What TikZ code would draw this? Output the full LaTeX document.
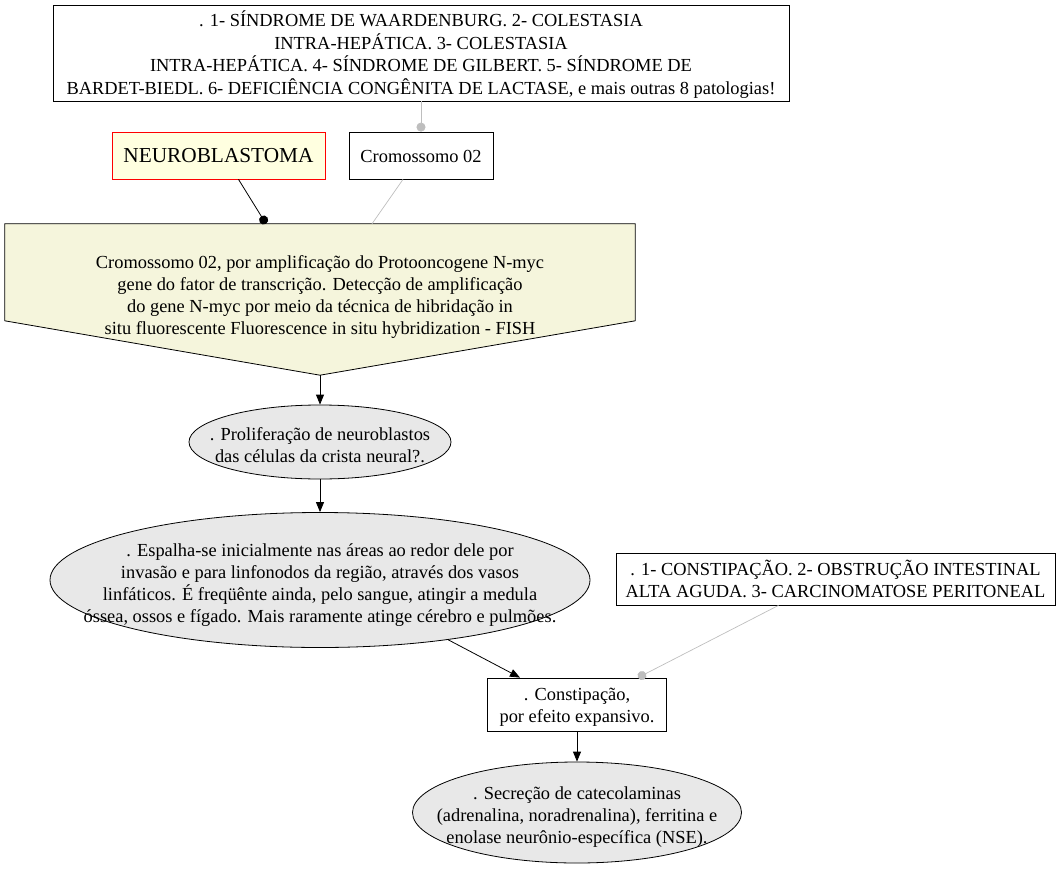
\documentclass[tikz,border=0pt]{standalone}
\usepackage{fontspec}
\setmainfont{Liberation Serif}
\usepackage{tikz}
\usetikzlibrary{shapes.geometric,arrows.meta,backgrounds}

\definecolor{elgray}{HTML}{E8E8E8}
\definecolor{beige}{HTML}{F5F5DC}
\definecolor{lyellow}{HTML}{FFFFE0}
\definecolor{lgray}{HTML}{BEBEBE}

% lines of a node, a little lower than the node's centre
\newcommand{\boxtext}[2][3pt]{\raisebox{-#1}[\height][\depth]{\begin{tabular}{@{}c@{}}#2\end{tabular}}}
% text of an ellipse, kept out of the shape's size
\newcommand{\elltext}[1]{\makebox[0pt][c]{\boxtext[5pt]{#1}}}

\tikzset{
  txt/.style={font=\fontsize{18.4}{22}\selectfont, align=center, inner sep=0pt},
  sqbox/.style={txt, draw, rectangle, line width=0.8pt},
  elbox/.style={txt, draw, ellipse, fill=elgray, line width=0.8pt},
  flow/.style={line width=0.8pt, -{Triangle[length=10pt,width=8pt]}},
  dotblack/.style={line width=0.8pt, -{Circle[length=9pt]}},
  dotgray/.style={line width=0.7pt, lgray, -{Circle[length=9pt]}},
  grayline/.style={line width=0.7pt, lgray}
}

\begin{document}
\begin{tikzpicture}[x=1pt,y=-1pt]
    \useasboundingbox (0,0) rectangle (1062,872);

    \node[sqbox, minimum width=736pt, minimum height=96pt] (doencas) at (421,53)
        {\boxtext{. 1- SÍNDROME DE WAARDENBURG. 2- COLESTASIA\\
         INTRA-HEPÁTICA. 3- COLESTASIA\\
         INTRA-HEPÁTICA. 4- SÍNDROME DE GILBERT. 5- SÍNDROME DE\\
         BARDET-BIEDL. 6- DEFICIÊNCIA CONGÊNITA DE LACTASE, e mais outras 8 patologias!}};
    \node[sqbox, draw=red, fill=lyellow, font=\fontsize{21.3}{25}\selectfont,
        minimum width=213pt, minimum height=47pt] (neuro) at (218.5,155.5) {\boxtext[2pt]{NEUROBLASTOMA}};
    \node[sqbox, minimum width=144pt, minimum height=47pt] (cromo) at (421,155.5) {\boxtext{Cromossomo 02}};

    \node[txt, minimum width=630pt, minimum height=142pt] (amplif) at (320,295)
        {\boxtext[2.5pt]{Cromossomo 02, por amplificação do Protooncogene N-myc\\
         gene do fator de transcrição. Detecção de amplificação\\
         do gene N-myc por meio da técnica de hibridação in\\
         situ fluorescente Fluorescence in situ hybridization - FISH}};
    \coordinate (amplif tip) at ([yshift=-9pt]amplif.south);
    \begin{pgfonlayer}{background}
        \draw[fill=beige, line width=0.8pt] (amplif.north west) -- (amplif.north east)
            -- ([yshift=-97pt]amplif.north east) -- (amplif tip)
            -- ([yshift=-97pt]amplif.north west) -- cycle;
    \end{pgfonlayer}

    \node[elbox, minimum width=262pt, minimum height=74pt] (prolif) at (320,442)
        {\elltext{. Proliferação de neuroblastos\\ das células da crista neural?.}};
    \node[elbox, minimum width=540pt, minimum height=135pt] (espalha) at (320,580)
        {\elltext{. Espalha-se inicialmente nas áreas ao redor dele por\\
         invasão e para linfonodos da região, através dos vasos\\
         linfáticos. É freqüênte ainda, pelo sangue, atingir a medula\\
         óssea, ossos e fígado. Mais raramente atinge cérebro e pulmões.}};
    \node[sqbox, minimum width=439pt, minimum height=52pt] (obstr) at (835.5,579)
        {\boxtext{. 1- CONSTIPAÇÃO. 2- OBSTRUÇÃO INTESTINAL\\
         ALTA AGUDA. 3- CARCINOMATOSE PERITONEAL}};
    \node[sqbox, minimum width=179pt, minimum height=53pt] (constip) at (577,704.5)
        {\boxtext{. Constipação,\\ por efeito expansivo.}};
    \node[elbox, minimum width=329pt, minimum height=101pt] (secrec) at (577,812.5)
        {\elltext{. Secreção de catecolaminas\\
         (adrenalina, noradrenalina), ferritina e\\
         enolase neurônio-específica (NSE).}};

    \draw[dotgray] (doencas) -- (cromo);
    \draw[dotblack] ([xshift=20pt]neuro.south) -- ([xshift=-54pt]amplif.north);
    \draw[grayline] ([xshift=-18pt]cromo.south) -- ([xshift=52pt]amplif.north);
    \draw[flow] (amplif tip) -- (prolif.north);
    \draw[flow] (prolif.south) -- (espalha.north);
    \draw[flow] (espalha.-25) -- ([xshift=-57pt]constip.north);
    \draw[dotgray] ([xshift=-57pt]obstr.south) -- ([xshift=61pt]constip.north);
    \draw[flow] (constip.south) -- (secrec.north);
\end{tikzpicture}
\end{document}
